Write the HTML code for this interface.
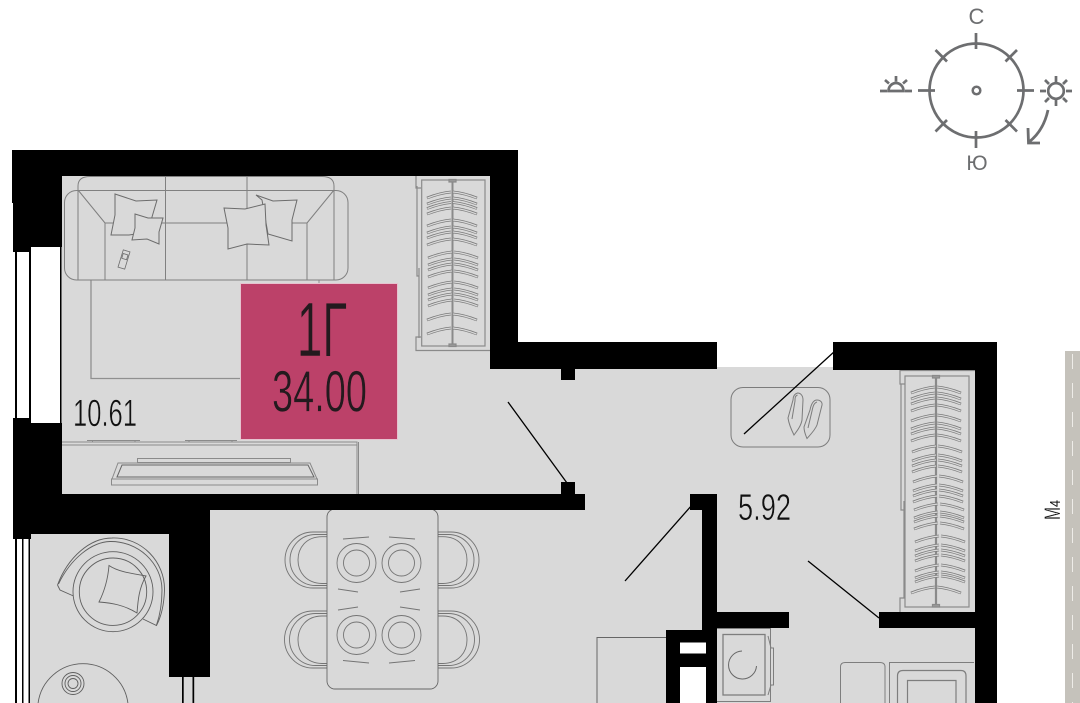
<!DOCTYPE html>
<html lang="ru"><head><meta charset="utf-8"><title>Планировка 1Г</title>
<style>
html,body{margin:0;padding:0;background:#fff;width:1080px;height:703px;overflow:hidden}
svg{display:block;overflow:hidden}
text{font-family:"Liberation Sans Narrow","Liberation Sans",sans-serif}
</style></head><body>
<svg xmlns="http://www.w3.org/2000/svg" width="1080" height="703" viewBox="0 0 1080 703">
<defs>
<g id="h" fill="none">
<path d="M-25 4Q-12 -1 -1 -2M1 -2Q12 -1 25 4" stroke="#7a7a7a" stroke-width="2.700"/>
<path d="M-24.500 4Q-12 -1 -1 -2M1 -2Q12 -1 24.500 4" stroke="#d9d9d9" stroke-width="1.300"/>
</g>
</defs>
<rect width="1080" height="703" fill="#fff"/>

<!-- floors -->
<g fill="#d9d9d9">
<rect x="61" y="176" width="430" height="320"/>
<rect x="490" y="367" width="486" height="130"/>
<rect x="585" y="490" width="391" height="213"/>
<rect x="210" y="508" width="500" height="195"/>
<rect x="30" y="532" width="180" height="171"/>
</g>

<!-- window lines -->
<g fill="#000">
<rect x="15" y="250" width="2" height="170"/>
<rect x="29" y="250" width="2" height="170"/>
<rect x="60" y="247" width="1.500" height="177"/>
<rect x="15" y="538" width="2" height="165"/>
<rect x="22" y="538" width="1.500" height="165"/>
<rect x="28.500" y="538" width="1.500" height="165"/>
<rect x="182" y="676" width="1.700" height="27"/>
<rect x="192.500" y="676" width="1.700" height="27"/>
</g>

<!-- furniture: sofa & rug -->
<g fill="none" stroke="#808080" stroke-width="1">
<path d="M91 280V378.500H241" stroke="#909090" stroke-width="1.300"/>
<path d="M319 280V284" stroke="#909090"/>
<path d="M78 190V186Q78 176.500 90 176.500H322Q334 176.500 334 186V190"/>
<rect x="64.500" y="190.500" width="283.500" height="89.500" rx="12"/>
<path d="M78 190V280M334 190V280M165.500 176V280M247 176V280M105 280V223H307V280M78 190L105 223M334 190L307 223"/>
</g>
<g fill="#d9d9d9" stroke="#6c6c6c" stroke-width="1">
<path d="M115 194L136 201L157 200L152 217L149 232L129 235L111 235L115 215Z"/>
<path d="M135 214L148 218L163 218L159 232L159 244L147 239L132 240L135 228Z"/>
<path d="M256 195L273 201L297 200L292 220L292 241L268 234L262 200Z"/>
<path d="M224 208L245 209L265 204L266 225L269 245L247 244L228 249L228 228Z"/>
<g transform="rotate(17 124 259.500)" fill="none" stroke-width=".8"><rect x="120.500" y="250.500" width="7" height="18"/><rect x="121.500" y="254" width="5" height="5"/></g>
</g>

<!-- wardrobe 1 -->
<g fill="none" stroke="#8a8a8a" stroke-width="1.200">
<path d="M490 350.500H416V337H421M421 188H416V176"/>
<rect x="421.700" y="180" width="63.300" height="166"/>
<path d="M417 186V276H419M419 268V338"/>
<path d="M452.500 180V345" stroke-width="2"/>
<rect x="449" y="179.500" width="7" height="2.500" fill="#999"/>
<rect x="449" y="344" width="7" height="2.500" fill="#999"/>
</g>
<use href="#h" x="452" y="194"/><use href="#h" x="452" y="200"/><use href="#h" x="452" y="204.500"/><use href="#h" x="452" y="210"/>
<use href="#h" x="452" y="222"/><use href="#h" x="452" y="229"/><use href="#h" x="452" y="234"/><use href="#h" x="452" y="241"/>
<use href="#h" x="453" y="254"/><use href="#h" x="453" y="261"/><use href="#h" x="453" y="266"/><use href="#h" x="453" y="273"/>
<use href="#h" x="453" y="284"/><use href="#h" x="453" y="291"/><use href="#h" x="453" y="296"/><use href="#h" x="453" y="302"/>
<use href="#h" x="452" y="316"/><use href="#h" x="452" y="330"/>

<!-- TV console -->
<g fill="none" stroke="#8a8a8a" stroke-width="1">
<path d="M62 442H357V494M62 445H357M358.500 442V494" />
<path d="M87 440.500H140M92.500 440V442M135 440V442M185 440.500H237M189 440V442M232 440V442"/>
<rect x="111.500" y="479" width="206" height="6"/>
<path d="M112 479L118 463H310L317 479"/>
<path d="M117 477L122 465H308L314 477Z" stroke="#666"/>
<rect x="137.500" y="458.500" width="153" height="4"/>
</g>

<!-- pink label -->
<rect x="240" y="283" width="158" height="157" fill="#e6c3cf"/>
<rect x="241" y="284" width="156" height="155" fill="#bc4169"/>
<text x="297" y="356" font-size="77" textLength="50" lengthAdjust="spacingAndGlyphs" fill="#231a1e" stroke="#bc4169" stroke-width=".6">1Г</text>
<text x="272" y="411.500" font-size="58" textLength="95" lengthAdjust="spacingAndGlyphs" fill="#231a1e" stroke="#bc4169" stroke-width=".7">34.00</text>
<text x="73" y="426" font-size="38" textLength="64" lengthAdjust="spacingAndGlyphs" fill="#111" stroke="#d9d9d9" stroke-width=".6">10.61</text>
<text x="738" y="520" font-size="37" textLength="53" lengthAdjust="spacingAndGlyphs" fill="#111" stroke="#d9d9d9" stroke-width=".6">5.92</text>

<!-- dining table -->
<g fill="none" stroke="#747474" stroke-width=".9">
<path d="M327 532H313A28 28 0 0 0 313 588H327"/>
<path d="M327 534.500H315.500A25.500 25.500 0 0 0 315.500 585.500H327"/>
<path d="M327 536.700H322C306 536.700 298 548 298 560C298 572 306 583 322 583.500H327"/>
<path d="M327 611H313A28.500 28.500 0 0 0 313 668H327"/>
<path d="M327 613.500H315.500A26 26 0 0 0 315.500 665.500H327"/>
<path d="M327 616H322C306 616 298 628 298 640C298 652 306 663 322 663.500H327"/>
<path d="M438 532H451A28 28 0 0 1 451 588H438"/>
<path d="M438 534.500H448.500A25.500 25.500 0 0 1 448.500 585.500H438"/>
<path d="M438 536.700H443C459 536.700 467 548 467 560C467 572 459 583 443 583.500H438"/>
<path d="M438 611H451A28.500 28.500 0 0 1 451 668H438"/>
<path d="M438 613.500H448.500A26 26 0 0 1 448.500 665.500H438"/>
<path d="M438 616H443C459 616 467 628 467 640C467 652 459 663 443 663.500H438"/>
<rect x="327" y="509" width="111" height="180" rx="8" fill="#d9d9d9" stroke="#666"/>
<circle cx="356.500" cy="563" r="19.500"/><circle cx="356.500" cy="563" r="13"/>
<circle cx="401.500" cy="563" r="19.500"/><circle cx="401.500" cy="563" r="13"/>
<circle cx="356.500" cy="635" r="19.500"/><circle cx="356.500" cy="635" r="13"/>
<circle cx="401.500" cy="635" r="19.500"/><circle cx="401.500" cy="635" r="13"/>
<path d="M343 539L369 537M389 537L415 539M338 589L358 592M400 592L420 589M338 610L358 607M400 607L420 610M343 660.500L369 663M389 663L415 660.500"/>
</g>

<!-- armchair -->
<g fill="none" stroke="#5f5f5f" stroke-width=".9">
<path d="M57.500 585C68 557 90 538 112 538C142 537 165 562 164.500 590C164 605 161 617 156.500 625.500L143 619"/>
<path d="M58.500 584C71 558 92 542 110 541.500C138 541 162 563 162 590C162 603 160 615 156.500 625"/>
<path d="M57.500 585L60 590L73.500 596"/>
<circle cx="113" cy="591.700" r="40"/>
<circle cx="113" cy="591.700" r="33.700"/>
<path d="M109 565.500C117 571 128 573 146 576C139 588 138 600 137 613C124 605 112 603 99 602C105 590 108 578 109 565.500Z"/>
<path d="M38.100 703A45.300 45.300 0 0 1 127.900 703"/>
<circle cx="73" cy="683.500" r="11"/><circle cx="73" cy="683.500" r="8"/><circle cx="73" cy="683.500" r="5"/>
</g>

<!-- shoe mat -->
<g fill="none" stroke="#7c7c7c" stroke-width="1">
<rect x="731" y="387.500" width="99" height="59.500" rx="12"/>
<path d="M797.500 393C794 394 793 397 793 400L788 418C789 425 792 431 794 435C797 431 801 426 802 420L803 400C803 396 801 393 797.500 393Z"/>
<path d="M797.500 395C795 396 795 398 795 401L792 419"/>
<path d="M817 400C813 400 811 405 810 410L804 427C804 432 806 436 807 438.500C811 434 815 430 817 425L822 405C822.500 402 820 400 817 400Z"/>
<path d="M817 402C814 403 813 406 812 411L808 428"/>
</g>

<!-- wardrobe 2 -->
<g fill="none" stroke="#8a8a8a" stroke-width="1.200">
<path d="M975 370.500H900V384H905M905 598H900V612"/>
<rect x="905" y="376" width="64" height="231"/>
<path d="M901 384V510H904M904 501V598"/>
<path d="M936 376V606" stroke-width="2.200"/>
<rect x="932.500" y="375.500" width="7" height="2.500" fill="#999"/>
<rect x="932.500" y="604.500" width="7" height="2.500" fill="#999"/>
</g>
<use href="#h" x="936" y="389"/><use href="#h" x="936" y="395"/><use href="#h" x="936" y="400"/><use href="#h" x="936" y="407"/>
<use href="#h" x="936" y="417"/><use href="#h" x="936" y="425"/><use href="#h" x="936" y="430"/><use href="#h" x="936" y="437"/>
<use href="#h" x="937" y="448"/><use href="#h" x="937" y="457"/><use href="#h" x="937" y="462"/><use href="#h" x="937" y="468"/>
<use href="#h" x="938" y="478"/><use href="#h" x="938" y="487"/><use href="#h" x="938" y="492"/><use href="#h" x="938" y="498"/>
<use href="#h" x="939" y="506"/><use href="#h" x="939" y="514"/><use href="#h" x="939" y="518"/><use href="#h" x="939" y="525"/>
<use href="#h" x="940" y="538"/><use href="#h" x="940" y="547"/><use href="#h" x="940" y="552"/><use href="#h" x="940" y="557"/>
<use href="#h" x="940" y="567"/><use href="#h" x="940" y="574"/><use href="#h" x="940" y="578"/><use href="#h" x="936" y="589"/>

<!-- bathroom / kitchen details -->
<g fill="none" stroke="#7e7e7e" stroke-width="1">
<path d="M717 628.500H770.500V701.500H717"/>
<rect x="723" y="634.500" width="42" height="60.500" stroke-width="1.300"/>
<path d="M771 648H773.500V685H771M768 636L771 648M768 695L771 685"/>
<path d="M742 651A14 14 0 1 0 756.500 666" stroke="#666"/>
<path d="M666 637.500H597V703" stroke="#666"/>
<path d="M885 703V667Q885 662.500 880 662.500H845Q840.500 662.500 840.500 667V703"/>
<path d="M889.500 703V662.500H974"/>
<path d="M897.500 703V676Q897.500 670.500 903 670.500H961Q966 670.500 966 676V703" stroke-width="1.200"/>
<path d="M907.500 703V680.500H956V703" stroke-width="1.200"/>
</g>

<!-- walls -->
<g fill="#000">
<path d="M12 150H518V342H717V369H575V380H561V369H490V176H62V247H31V252H13V203H12Z"/>
<path d="M13 418H31V423H62V494H561V482H575V494H585V510H210V677H169V534H31V539H13Z"/>
<path d="M690 494H717V612H789V628H717V703H706V667H680V703H666V630H702V510H690Z"/>
<rect x="680" y="642.500" width="26" height="11" fill="#fff"/>
<rect x="680" y="667" width="26" height="36" fill="#fff"/>
<path d="M833 342H997V703H975V628H879V612H975V370H833Z"/>
</g>

<!-- door leaves -->
<g stroke="#000" stroke-width="1.300" fill="none">
<path d="M744 434L835 351M808 561L879 618M508 402L567 483M625 581L692 505"/>
</g>

<!-- М4 strip -->
<rect x="1065" y="351" width="15" height="352" fill="#c5c2bb"/>
<path d="M1072.500 354V703" stroke="#eeece8" stroke-width="1" stroke-dasharray="15 14"/>
<text transform="translate(1060 520) rotate(-90)" font-size="22" textLength="13" lengthAdjust="spacingAndGlyphs" fill="#111" stroke="#fff" stroke-width=".3">М</text>
<text transform="translate(1060 507) rotate(-90)" font-size="15" textLength="7" lengthAdjust="spacingAndGlyphs" fill="#111">4</text>

<!-- compass -->
<g fill="none" stroke="#6d6e70" stroke-width="2.700">
<circle cx="976.500" cy="90.500" r="47"/>
<path d="M976 33V49M976 131V148M918 90.500H935M1017 90.500H1034M935.500 50L947 61.500M1017 50L1005.500 61.500M935.500 131.500L947 120M1017 131.500L1005.500 120"/>
<circle cx="976.500" cy="90.500" r="3.800" stroke-width="2.500"/>
<circle cx="1056" cy="91" r="7.800"/>
<path d="M1056 76V82M1056 100V106M1040 91H1046M1066 91H1072M1045 80L1049 84M1067 80L1063 84M1045 102L1049 98M1067 102L1063 98"/>
<path d="M888.500 91A7.500 8 0 0 1 903.500 91Z"/>
<path d="M880 91H887M905 91H912M896 76V81.500M885 80L889 83.500M907 80L903 83.500"/>
<path d="M1048 110C1045 124 1038 135 1029 142M1028 128L1028.500 143H1040" stroke-width="2.800"/>
</g>
<text x="976.500" y="24" font-size="22" text-anchor="middle" fill="#6d6e70" style="font-family:'Liberation Sans',sans-serif">С</text>
<text x="977" y="170" font-size="21" text-anchor="middle" fill="#6d6e70" style="font-family:'Liberation Sans',sans-serif">Ю</text>
</svg>
</body></html>
